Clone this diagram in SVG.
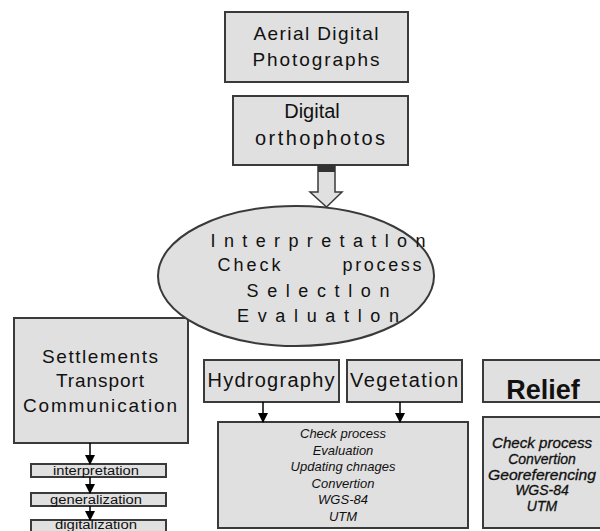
<svg xmlns="http://www.w3.org/2000/svg" width="600" height="531" viewBox="0 0 600 531">
<defs>
<marker id="ah" markerWidth="10" markerHeight="10" refX="9" refY="5" orient="auto" markerUnits="userSpaceOnUse">
<path d="M0,0 L10,5 L0,10 Z" fill="#000"/>
</marker>
<style>
.box{fill:#e0e0e0;stroke:#3a3a3a;stroke-width:2}
.t{font-family:"Liberation Sans",Arial,sans-serif;fill:#111;text-anchor:middle}
.big{font-size:19px}
.el{font-size:18px}
.it{font-size:13px;font-style:italic}
.ri{font-size:14px;font-style:italic;stroke:#111;stroke-width:0.3}
.sm{font-size:12px}
.con{stroke:#000;stroke-width:1.5;fill:none}
</style>
</defs>
<rect width="600" height="531" fill="#fff"/>
<g id="aerial">
<rect class="box" x="225" y="12" width="183" height="70"/>
<text class="t big" x="316" y="40" textLength="125" lengthAdjust="spacing">Aerial Digital</text>
<text class="t big" x="316" y="66" textLength="127" lengthAdjust="spacing">Photographs</text>
</g>
<g id="ortho">
<rect class="box" x="233" y="96" width="175" height="69"/>
<text class="t" font-size="20" x="312" y="118">Digital</text>
<text class="t" font-size="20" x="320" y="145" textLength="130" lengthAdjust="spacing">orthophotos</text>
</g>
<g id="settlements">
<rect class="box" x="14" y="318" width="174" height="125"/>
<text class="t big" x="100" y="363" textLength="116" lengthAdjust="spacing">Settlements</text>
<text class="t big" x="100" y="387" textLength="88" lengthAdjust="spacing">Transport</text>
<text class="t big" x="100" y="412" textLength="154" lengthAdjust="spacing">Communication</text>
</g>
<g id="process">
<ellipse cx="296" cy="276" rx="138" ry="70" fill="#e0e0e0" stroke="#3a3a3a" stroke-width="2"/>
<text class="t el" x="318" y="247" textLength="215" lengthAdjust="spacing">Interpretatlon</text>
<text class="t el" x="249" y="271" textLength="63" lengthAdjust="spacing">Check</text>
<text class="t el" x="382" y="271" textLength="79" lengthAdjust="spacing">process</text>
<text class="t el" x="318" y="297" textLength="143" lengthAdjust="spacing">Selectlon</text>
<text class="t el" x="318" y="322" textLength="162" lengthAdjust="spacing">Evaluatlon</text>
</g>
<g id="interpretation">
<rect class="box" x="31" y="464" width="135" height="13"/>
<text class="t sm" x="96" y="475" textLength="86" lengthAdjust="spacingAndGlyphs">interpretation</text>
</g>
<g id="generalization">
<rect class="box" x="31" y="493" width="135" height="13"/>
<text class="t sm" x="96" y="504" textLength="92" lengthAdjust="spacingAndGlyphs">generalization</text>
</g>
<g id="digitalization">
<rect class="box" x="31" y="520" width="135" height="14"/>
<text class="t sm" x="96" y="529" textLength="82" lengthAdjust="spacingAndGlyphs">digitalization</text>
</g>
<g id="hydrography">
<rect class="box" x="204" y="360" width="135" height="42"/>
<text class="t" font-size="20" x="271" y="387" textLength="127" lengthAdjust="spacing">Hydrography</text>
</g>
<g id="vegetation">
<rect class="box" x="347" y="360" width="115" height="42"/>
<text class="t" font-size="20" x="404" y="387" textLength="108" lengthAdjust="spacing">Vegetation</text>
</g>
<g id="hv-steps">
<rect class="box" x="218" y="422" width="250" height="106"/>
<text class="t it" x="343" y="438">Check process</text>
<text class="t it" x="343" y="455">Evaluation</text>
<text class="t it" x="343" y="471">Updating chnages</text>
<text class="t it" x="343" y="488">Convertion</text>
<text class="t it" x="343" y="504">WGS-84</text>
<text class="t it" x="343" y="521">UTM</text>
</g>
<g id="relief">
<rect class="box" x="483" y="360" width="122" height="42"/>
<text class="t" font-size="27" font-weight="bold" x="543" y="399">Relief</text>
</g>
<g id="relief-steps">
<rect class="box" x="483" y="417" width="122" height="111"/>
<text class="t ri" x="542" y="448" textLength="100" lengthAdjust="spacingAndGlyphs">Check process</text>
<text class="t ri" x="542" y="464">Convertion</text>
<text class="t ri" x="542" y="480" textLength="108" lengthAdjust="spacingAndGlyphs">Georeferencing</text>
<text class="t ri" x="542" y="495">WGS-84</text>
<text class="t ri" x="542" y="511">UTM</text>
</g>
<g id="connectors">
<path d="M318,165 L335,165 L335,192 L342,192 L326.5,207 L310,192 L318,192 Z" fill="#e0e0e0" stroke="#3a3a3a" stroke-width="1.5"/>
<rect x="318" y="165" width="17" height="7" fill="#333"/>
<line class="con" x1="90" y1="443" x2="90" y2="464" marker-end="url(#ah)"/>
<line class="con" x1="90" y1="477" x2="90" y2="493" marker-end="url(#ah)"/>
<line class="con" x1="90" y1="506" x2="90" y2="520" marker-end="url(#ah)"/>
<line class="con" x1="263" y1="402" x2="263" y2="422" marker-end="url(#ah)"/>
<line class="con" x1="400" y1="402" x2="400" y2="422" marker-end="url(#ah)"/>
</g>
</svg>
